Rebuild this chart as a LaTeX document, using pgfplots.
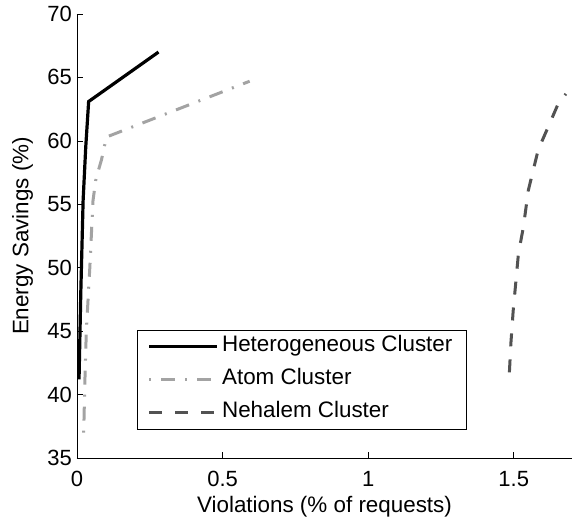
\documentclass[border=0pt]{standalone}
\usepackage{pgfplots}
\pgfplotsset{compat=1.18}
\usepackage{fontspec}
\setmainfont{Liberation Sans}

\definecolor{atomgray}{gray}{0.64}
\definecolor{nehgray}{gray}{0.32}

\begin{document}
\fontsize{22.4}{26}\selectfont
\begin{tikzpicture}
\begin{axis}[
    scale only axis,
    width=495pt, height=444pt,
    xmin=0, xmax=1.7, ymin=35, ymax=70,
    xtick={0,0.5,1,1.5}, ytick={35,40,...,70},
    axis x line*=bottom, axis y line*=left,
    axis line style={line width=0.6pt},
    tick align=inside, major tick length=6pt,
    tick style={line width=0.6pt, black},
    /pgf/number format/assume math mode=true,
    tick label style={font=\fontsize{22}{26}\selectfont},
    xticklabel style={inner sep=0pt, yshift=-13pt},
    yticklabel style={inner sep=0pt, xshift=-5pt},
    label style={font=\fontsize{22.4}{26}\selectfont},
    xlabel={Violations (\% of requests)},
    ylabel={Energy Savings (\%)},
    xlabel style={at={(axis description cs:0.5,-0.11)}, anchor=center},
    ylabel style={at={(axis description cs:-0.110,0.5)}, anchor=center},
    clip=false,
    legend image code/.code={\draw[#1] (0pt,0pt) -- (68pt,0pt);},
    legend cell align=left,
    legend style={at={(axis description cs:0.121,0.065)}, anchor=south west,
        draw=black, line width=0.6pt, fill=white,
        font=\fontsize{22.4}{26}\selectfont,
        inner xsep=10.7pt, inner ysep=3pt, row sep=6pt,
        nodes={inner sep=3pt, text height=16pt, text depth=5pt}},
]
\addplot[black, line width=3.2pt] coordinates {
    (0.007,41.2) (0.013,48.0) (0.021,55.3) (0.030,59.5) (0.040,63.1) (0.280,67.0)
};
\addlegendentry{Heterogeneous Cluster}

\addplot[atomgray, line width=3pt, dash pattern=on 14pt off 10pt on 2pt off 10pt,
    dash phase=24pt] coordinates {
    (0.023,37.0) (0.027,41.0) (0.032,45.0) (0.044,50.0) (0.055,55.3) (0.065,57.0)
    (0.084,58.5) (0.101,60.3) (0.593,64.7)
};
\addlegendentry{Atom Cluster}

\addplot[nehgray, line width=3pt, dash pattern=on 13pt off 13pt] coordinates {
    (1.485,41.75) (1.490,44.0) (1.498,46.6) (1.516,51.1) (1.533,53.2) (1.550,56.1)
    (1.584,59.3) (1.624,61.4) (1.653,62.95) (1.679,63.7)
};
\addlegendentry{Nehalem Cluster}

% frame the picture like the reference page
\path (rel axis cs:0,0) ++(-77pt,-60pt);
\path (rel axis cs:1,1) ++(7pt,14pt);
\end{axis}
\end{tikzpicture}
\end{document}
